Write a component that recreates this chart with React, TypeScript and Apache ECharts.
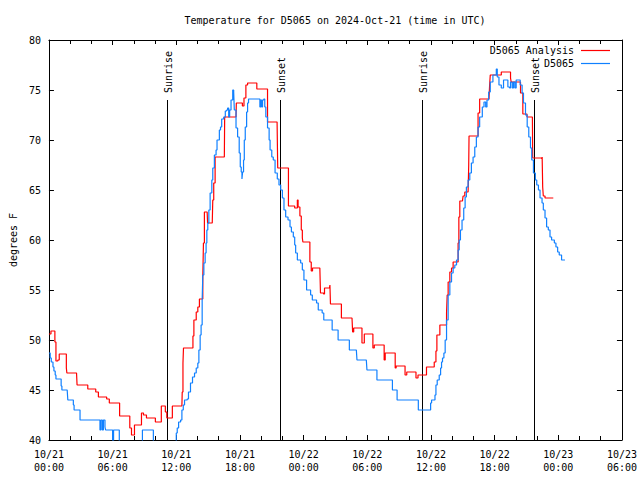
import React, { useEffect, useRef } from 'react';
import * as echarts from 'echarts';

const titleText = 'Temperature for D5065 on 2024-Oct-21 (time in UTC)';
const yAxisName = 'degrees F';
const startMonth = 10;
const startDay = 21;
const xMin = 0;
const xMax = 54;
const xInterval = 6;
const yMin = 40;
const yMax = 80;
const yInterval = 5;
const seriesNames = ['D5065 Analysis', 'D5065'];
const seriesColors = ['#ff0000', '#1080ff'];

// hours since 2024-10-21 00:00 UTC
const analysisHours = [0, 0.19, 0.47, 0.56, 0.66, 0.84, 0.97, 1.53, 1.64, 1.69,
  2.60, 2.65, 3.50, 3.66, 4.31, 4.41, 4.66, 5.28, 5.44, 5.69,
  6.59, 6.66, 7.50, 7.62, 7.78, 8.06, 8.53, 8.72, 8.91, 9.19,
  9.94, 10.03, 10.50, 10.59, 10.88, 10.97, 11.11, 11.53, 11.63, 12.53,
  12.56, 12.63, 12.68, 13.47, 13.57, 13.66, 13.88, 14.03, 14.18, 14.41,
  14.50, 14.56, 14.65, 14.91, 14.95, 15.39, 15.44, 15.53, 15.66, 16.53,
  16.56, 17.63, 17.66, 18.09, 18.23, 18.38, 18.56, 18.72, 19.34, 19.59,
  20.53, 20.60, 21.50, 21.56, 22.47, 22.57, 23.09, 23.16, 23.34, 23.41,
  23.48, 23.65, 23.78, 23.88, 23.93, 24.50, 24.59, 24.72, 24.84, 25.53,
  25.59, 25.88, 25.97, 26.44, 26.48, 26.53, 27.47, 27.56, 28.56, 28.62,
  28.72, 29.41, 29.50, 29.72, 30.44, 30.53, 30.66, 31.47, 31.59, 31.69,
  32.47, 32.63, 32.72, 33.47, 33.56, 33.72, 34.50, 34.59, 34.78, 35.44,
  35.58, 36.22, 36.31, 36.47, 36.56, 36.84, 37.38, 37.47, 37.53, 37.62,
  37.78, 37.94, 38.09, 38.47, 38.56, 38.63, 38.72, 38.97, 39.03, 39.19,
  39.50, 39.56, 39.59, 40.34, 40.44, 40.59, 41.47, 41.53, 41.59, 42.47,
  42.63, 43.41, 43.50, 43.56, 44.34, 44.44, 44.66, 44.97, 45.05, 45.56,
  45.59, 46.44, 46.48, 46.53, 46.59, 46.75, 47.53];
const analysisTemps = [50.6, 50.9, 50.9, 49.8, 47.9, 48.0, 48.6, 48.6, 47.2, 46.7,
  46.7, 45.5, 45.5, 45.1, 45.1, 44.8, 44.3, 44.3, 44.1, 43.7,
  43.7, 42.4, 42.4, 41.2, 40.5, 41.5, 41.5, 42.7, 42.5, 42.2,
  42.2, 41.8, 41.8, 43.4, 43.4, 42.8, 42.2, 42.2, 43.4, 43.4,
  44.8, 47.7, 49.2, 49.2, 50.4, 52.0, 52.8, 53.3, 54.1, 54.1,
  56.3, 59.7, 62.8, 62.8, 61.7, 61.7, 64.0, 65.7, 68.3, 68.3,
  72.3, 72.3, 73.7, 73.7, 73.4, 74.2, 75.5, 75.7, 75.7, 75.1,
  75.1, 71.8, 71.8, 67.2, 67.2, 63.4, 63.4, 63.2, 63.2, 64.0,
  63.3, 62.4, 61.0, 60.2, 59.8, 59.8, 57.8, 56.9, 57.2, 57.2,
  54.7, 54.6, 55.2, 55.2, 55.5, 53.6, 53.6, 52.2, 52.2, 50.8,
  51.2, 51.2, 49.7, 50.6, 50.6, 49.2, 49.5, 49.5, 48.0, 48.7,
  48.7, 47.2, 47.4, 47.4, 46.5, 46.8, 46.8, 46.2, 46.5, 46.5,
  47.3, 47.3, 47.8, 48.9, 50.5, 51.5, 51.5, 52.7, 54.5, 55.8,
  56.8, 57.2, 57.8, 57.8, 59.7, 62.3, 63.9, 63.9, 64.4, 64.8,
  64.8, 67.5, 70.4, 70.4, 72.7, 74.1, 74.1, 75.5, 76.5, 76.5,
  76.8, 76.8, 76.2, 75.8, 75.8, 74.7, 72.6, 72.6, 72.3, 72.3,
  68.2, 68.1, 68.3, 65.3, 64.4, 64.2, 64.2];

const obsHours = [0, 0.12, 0.22, 0.38, 0.47, 0.59, 0.66, 1.06, 1.15, 1.22,
  1.72, 1.78, 2.22, 2.30, 2.37, 2.84, 2.93, 4.72, 4.81, 4.90,
  5.03, 5.13, 5.28, 5.34, 5.91, 6.00, 6.09, 6.53, 6.63, 8.72,
  8.81, 9.75, 9.84, 11.91, 12.00, 12.09, 12.22, 12.41, 12.53, 12.66,
  12.78, 13.03, 13.15, 13.34, 13.53, 13.72, 13.88, 14.03, 14.13, 14.25,
  14.34, 14.44, 14.50, 14.60, 14.72, 14.81, 14.88, 14.97, 15.07, 15.19,
  15.35, 15.44, 15.59, 15.75, 15.84, 16.06, 16.17, 16.28, 16.47, 16.62,
  16.75, 16.84, 16.94, 17.03, 17.16, 17.32, 17.41, 17.47, 17.63, 17.78,
  17.93, 18.03, 18.12, 18.19, 18.25, 18.34, 18.41, 18.50, 18.63, 18.72,
  18.81, 19.81, 19.88, 19.97, 20.06, 20.13, 20.25, 20.34, 20.44, 20.60,
  20.75, 20.84, 21.00, 21.14, 21.31, 21.52, 21.68, 21.84, 22.00, 22.15,
  22.31, 22.53, 22.72, 22.85, 23.03, 23.16, 23.25, 23.41, 23.72, 23.88,
  24.03, 24.28, 24.66, 24.82, 25.22, 25.38, 25.75, 25.90, 26.69, 27.00,
  27.25, 28.15, 28.31, 28.97, 29.03, 29.91, 29.97, 30.84, 30.91, 32.22,
  32.37, 32.72, 32.81, 34.59, 34.81, 35.84, 35.97, 36.06, 36.28, 36.38,
  36.47, 36.59, 36.78, 36.91, 37.00, 37.09, 37.22, 37.34, 37.47, 37.62,
  37.78, 37.94, 38.09, 38.25, 38.41, 38.56, 38.66, 38.78, 38.93, 39.09,
  39.22, 39.34, 39.50, 39.66, 39.81, 39.97, 40.13, 40.28, 40.44, 40.59,
  40.84, 41.00, 41.16, 41.28, 41.44, 41.59, 41.84, 42.09, 42.16, 42.25,
  42.41, 42.63, 42.84, 43.09, 43.25, 43.41, 43.50, 43.66, 43.78, 43.91,
  44.03, 44.28, 44.41, 44.59, 44.72, 44.91, 45.07, 45.22, 45.38, 45.50,
  45.66, 45.84, 45.97, 46.13, 46.28, 46.47, 46.59, 46.75, 46.90, 47.06,
  47.22, 47.37, 47.63, 47.78, 47.94, 48.09, 48.31, 48.63];
const obsTemps = [48.7, 48.2, 47.8, 47.3, 46.9, 46.5, 46.1, 46.1, 45.4, 45.0,
  45.0, 44.0, 44.0, 43.5, 43.0, 43.0, 42.0, 42.0, 41.0, 42.0,
  41.0, 42.0, 41.3, 41.0, 41.0, 39.5, 41.0, 41.0, 39.5, 39.5,
  41.0, 41.0, 39.5, 39.5, 40.7, 41.2, 41.8, 42.0, 43.0, 43.5,
  44.0, 44.1, 44.8, 45.7, 46.3, 46.7, 47.2, 47.7, 49.0, 50.5,
  51.5, 54.0, 56.5, 57.7, 58.7, 59.7, 61.0, 61.7, 63.0, 64.7,
  66.0, 67.2, 68.5, 69.0, 70.0, 71.0, 71.3, 72.1, 72.3, 72.9,
  73.0, 73.2, 72.3, 73.0, 74.0, 75.0, 74.8, 73.0, 71.2, 70.3,
  68.7, 67.3, 66.8, 66.1, 66.8, 68.0, 70.0, 71.3, 72.8, 73.7,
  74.1, 74.1, 73.3, 74.0, 73.3, 74.0, 74.1, 73.3, 72.3, 71.2,
  70.0, 69.0, 68.3, 68.0, 66.7, 66.1, 65.5, 65.0, 64.2, 63.0,
  62.3, 62.0, 61.3, 60.8, 60.3, 59.5, 58.7, 58.0, 57.7, 57.0,
  56.0, 55.0, 54.5, 54.0, 53.7, 53.0, 52.7, 52.0, 51.0, 51.0,
  50.0, 50.0, 49.0, 49.0, 48.0, 48.0, 47.0, 47.0, 46.0, 46.0,
  45.0, 45.0, 44.0, 44.0, 43.0, 43.0, 43.7, 44.0, 44.0, 44.5,
  45.5, 46.0, 46.5, 47.2, 47.8, 48.2, 48.7, 50.0, 52.0, 54.5,
  55.8, 56.7, 57.2, 57.5, 58.0, 59.0, 60.0, 61.0, 62.0, 63.2,
  64.3, 65.3, 66.0, 66.7, 67.7, 68.3, 69.3, 70.3, 71.3, 72.3,
  73.3, 73.8, 73.3, 74.0, 74.8, 75.8, 76.5, 76.5, 77.1, 76.3,
  75.5, 75.2, 76.0, 76.0, 75.3, 75.2, 75.8, 75.2, 75.8, 75.2,
  76.0, 76.0, 75.5, 74.7, 73.7, 72.5, 71.3, 70.3, 69.2, 68.0,
  66.7, 66.0, 65.5, 65.0, 64.2, 63.7, 63.0, 62.2, 61.3, 61.0,
  60.3, 60.0, 59.7, 59.3, 58.8, 58.5, 58.0, 58.0];

const sunHours = [11.16, 21.77, 35.17, 45.67];
const sunNames = ['Sunrise', 'Sunset', 'Sunrise', 'Sunset'];
const sunLineTop = 74;

const FONT_FAMILY = '"DejaVu Sans Mono", monospace';
const FONT = '10px "DejaVu Sans Mono", monospace';

function fmtHour(h: number): string {
  const day = startDay + Math.floor(h / 24);
  const hh = Math.round(h % 24);
  return `${startMonth}/${day}\n${String(hh).padStart(2, '0')}:00`;
}

function zip(xs: number[], ys: number[]): number[][] {
  const n = Math.min(xs.length, ys.length);
  const out: number[][] = [];
  for (let i = 0; i < n; i++) out.push([xs[i], ys[i]]);
  return out;
}

export default function App() {
  const ref = useRef<HTMLDivElement>(null);
  useEffect(() => {
    if (!ref.current) return;
    const chart = echarts.init(ref.current, undefined, { renderer: 'svg' });
    const axisLineStyle = { color: '#000', width: 1 };
    const baseX = {
      type: 'value' as const,
      min: xMin,
      max: xMax,
      interval: xInterval,
      splitLine: { show: false },
      axisLine: { show: true, onZero: false, lineStyle: axisLineStyle },
      axisTick: { show: true, inside: true, length: 5, lineStyle: axisLineStyle },
      minorTick: { show: true, splitNumber: 3, length: 4, lineStyle: axisLineStyle },
    };
    const baseY = {
      type: 'value' as const,
      min: yMin,
      max: yMax,
      interval: yInterval,
      splitLine: { show: false },
      axisLine: { show: true, onZero: false, lineStyle: axisLineStyle },
      axisTick: { show: true, inside: true, length: 5, lineStyle: axisLineStyle },
    };
    chart.setOption({
      animation: false,
      backgroundColor: '#fff',
      grid: { left: 47, right: 17, top: 40, bottom: 40, containLabel: false },
      xAxis: [
        {
          ...baseX,
          position: 'bottom',
          axisLabel: {
            show: true,
            color: '#000',
            fontFamily: FONT_FAMILY,
            fontSize: 10,
            lineHeight: 13,
            margin: 8,
            showMinLabel: true,
            showMaxLabel: true,
            hideOverlap: false,
            formatter: (v: number) => fmtHour(v),
          },
        },
        { ...baseX, position: 'top', axisLabel: { show: false } },
      ],
      yAxis: [
        {
          ...baseY,
          position: 'left',
          name: yAxisName,
          nameLocation: 'middle',
          nameGap: 29,
          nameRotate: 90,
          nameTextStyle: { color: '#000', fontFamily: FONT_FAMILY, fontSize: 10 },
          axisLabel: { color: '#000', fontFamily: FONT_FAMILY, fontSize: 10, margin: 8 },
        },
        { ...baseY, position: 'right', axisLabel: { show: false } },
      ],
      graphic: [
        {
          type: 'text',
          x: 335,
          y: 20,
          style: { text: titleText, font: FONT, fill: '#000', align: 'center', verticalAlign: 'middle' },
        },
        {
          type: 'text',
          x: 574,
          y: 50,
          style: { text: seriesNames[0], font: FONT, fill: '#000', align: 'right', verticalAlign: 'middle' },
        },
        {
          type: 'line',
          shape: { x1: 581, y1: 50.5, x2: 610, y2: 50.5 },
          style: { stroke: seriesColors[0], lineWidth: 1.2 },
        },
        {
          type: 'text',
          x: 574,
          y: 63,
          style: { text: seriesNames[1], font: FONT, fill: '#000', align: 'right', verticalAlign: 'middle' },
        },
        {
          type: 'line',
          shape: { x1: 581, y1: 63.5, x2: 610, y2: 63.5 },
          style: { stroke: seriesColors[1], lineWidth: 1.2 },
        },
      ],
      series: [
        {
          type: 'custom',
          name: 'sun',
          xAxisIndex: 0,
          yAxisIndex: 0,
          z: 1,
          data: sunHours.map((h) => [h]),
          renderItem: (params: any, api: any) => {
            const h = api.value(0);
            const top = api.coord([h, sunLineTop]);
            const bottom = api.coord([h, yMin]);
            const x = Math.round(top[0]) + 0.5;
            return {
              type: 'group',
              children: [
                {
                  type: 'line',
                  shape: { x1: x, y1: top[1], x2: x, y2: bottom[1] },
                  style: { stroke: '#000', lineWidth: 1 },
                },
                {
                  type: 'text',
                  x: x + 1,
                  y: top[1] - 7,
                  rotation: Math.PI / 2,
                  style: {
                    text: sunNames[params.dataIndex],
                    font: FONT,
                    fill: '#000',
                    align: 'left',
                    verticalAlign: 'middle',
                  },
                },
              ],
            };
          },
        },
        {
          type: 'line',
          name: seriesNames[0],
          data: zip(analysisHours, analysisTemps),
          step: 'end',
          showSymbol: false,
          clip: true,
          z: 2,
          lineStyle: { color: seriesColors[0], width: 1.2 },
          itemStyle: { color: seriesColors[0] },
        },
        {
          type: 'line',
          name: seriesNames[1],
          data: zip(obsHours, obsTemps),
          step: 'end',
          showSymbol: false,
          clip: true,
          z: 3,
          lineStyle: { color: seriesColors[1], width: 1.2 },
          itemStyle: { color: seriesColors[1] },
        },
      ],
    });
    return () => chart.dispose();
  }, []);
  return (
    <div
      ref={ref}
      style={{ position: 'fixed', left: 0, top: 0, width: 640, height: 480, background: '#fff' }}
    />
  );
}
